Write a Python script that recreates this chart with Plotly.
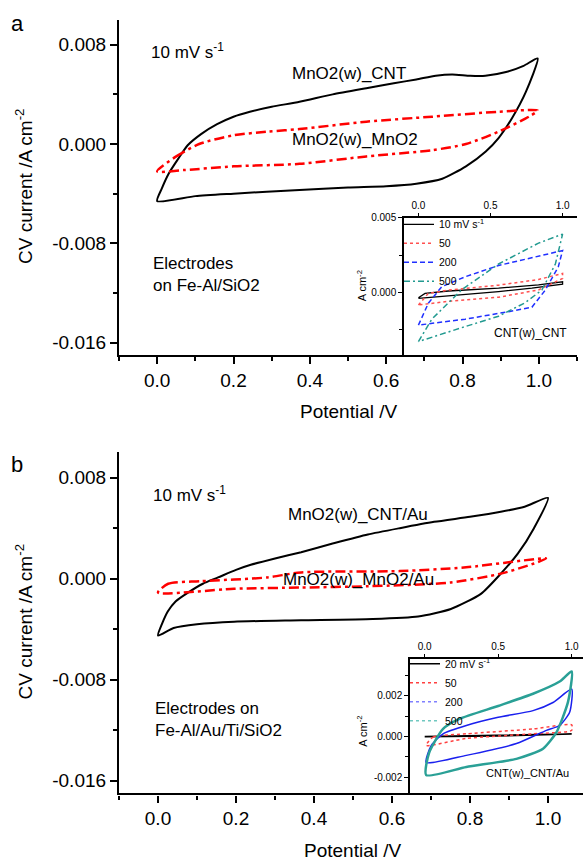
import plotly.graph_objects as go

W, H = 583, 862

# ---------------- data ----------------
# Panel a, main (10 mV/s)
a_cnt_x = [0.0, 0.012, 0.03, 0.055, 0.08, 0.115, 0.157, 0.2, 0.243, 0.3, 0.373, 0.46, 0.548, 0.62, 0.679, 0.73,
           0.773, 0.82, 0.86, 0.914, 0.96, 0.997,
           0.966, 0.93, 0.895, 0.861, 0.809, 0.747, 0.679, 0.6, 0.5, 0.373, 0.2, 0.1, 0.0]
a_cnt_y = [-0.0046, -0.0036, -0.0024, -0.0012, -0.0001, 0.0008, 0.0016, 0.0022, 0.0026, 0.003, 0.0034, 0.004,
           0.0045, 0.0049, 0.0052, 0.0055, 0.0056, 0.0055, 0.0055, 0.0058, 0.0063, 0.0069,
           0.0042, 0.0021, 0.0005, -0.0006, -0.0018, -0.0028, -0.0032, -0.0034, -0.0035, -0.0037, -0.0040,
           -0.0042, -0.0046]
a_mno2_x = [0.0, 0.05, 0.11, 0.2, 0.29, 0.373, 0.548, 0.72, 0.895, 0.997,
            0.974, 0.895, 0.809, 0.72, 0.548, 0.373, 0.2, 0.07, 0.0]
a_mno2_y = [-0.0022, -0.001, 0.0, 0.0007, 0.001, 0.0012, 0.0018, 0.0022, 0.0026, 0.0027,
            0.0022, 0.001, 0.0, -0.0005, -0.001, -0.0016, -0.0018, -0.0021, -0.0022]

# Panel a, inset CNT(w)_CNT
ia_10_x = [0.0, 0.046, 0.208, 0.556, 0.833, 1.0, 1.0, 0.787, 0.556, 0.208, 0.0]
ia_10_y = [-0.00036, -0.00007, 0.00009, 0.00028, 0.0005, 0.00071, 0.00055, 0.00028, 0.00005, -0.0002, -0.0004]
ia_50_x = [0.0, 0.069, 0.208, 0.556, 0.833, 1.0, 1.0, 0.833, 0.556, 0.208, 0.0]
ia_50_y = [-0.00085, -0.00007, 0.00015, 0.00048, 0.00086, 0.00127, 0.00093, 0.00016, -0.00033, -0.0006, -0.00085]
ia_200_x = [0.0, 0.069, 0.162, 0.324, 0.556, 0.833, 1.0, 0.97, 0.88, 0.787, 0.625, 0.324, 0.0]
ia_200_y = [-0.0022, -0.00073, 0.00038, 0.00104, 0.0018, 0.0024, 0.0028, 0.0017, 0.00015, -0.001, -0.0013, -0.0018, -0.0022]
ia_500_x = [0.0, 0.093, 0.301, 0.556, 0.833, 1.0, 0.95, 0.856, 0.74, 0.556, 0.324, 0.0]
ia_500_y = [-0.0033, -0.0018, 0.00018, 0.0019, 0.0033, 0.0039, 0.0019, 0.00015, -0.0007, -0.0016, -0.0023, -0.0033]
ia_names = ["10 mV s<sup>-1</sup>", "50", "200", "500"]

# Panel b, main (10 mV/s)
b_cnt_x = [0.0, 0.01, 0.025, 0.045, 0.077, 0.115, 0.154, 0.2, 0.238, 0.3, 0.367, 0.45, 0.538, 0.62, 0.708, 0.8,
           0.879, 0.94, 1.0,
           0.964, 0.923, 0.879, 0.828, 0.751, 0.667, 0.55, 0.367, 0.195, 0.1, 0.04, 0.0]
b_cnt_y = [-0.0045, -0.0036, -0.0026, -0.0018, -0.0011, -0.0004, 0.0001, 0.0007, 0.0011, 0.0016, 0.0021, 0.0028,
           0.0035, 0.004, 0.0045, 0.0049, 0.0053, 0.0057, 0.0064,
           0.004, 0.002, 0.0004, -0.0012, -0.0024, -0.003, -0.0032, -0.0033, -0.0034, -0.0036, -0.0039, -0.0045]
b_mno2_x = [0.0, 0.026, 0.11, 0.28, 0.367, 0.62, 0.79, 0.995, 0.964, 0.879, 0.751, 0.538, 0.367, 0.195, 0.0]
b_mno2_y = [-0.0011, -0.0004, -0.0002, 0.0001, 0.0005, 0.0006, 0.0009, 0.0016, 0.0012, 0.0004, -0.0003, -0.0006,
            -0.0007, -0.0008, -0.0011]

# Panel b, inset CNT(w)_CNT/Au
ib_20_x = [0.0, 0.5, 1.0, 0.5, 0.0]
ib_20_y = [0.0, 0.00006, 0.00012, 0.00002, -0.00002]
ib_50_x = [0.01, 0.057, 0.283, 0.737, 1.0, 1.0, 0.737, 0.283, 0.01]
ib_50_y = [-0.00044, -0.00003, 0.00013, 0.00037, 0.00057, 0.0003, 0.00013, -0.0001, -0.00044]
ib_200_x = [0.01, 0.045, 0.125, 0.283, 0.5, 0.737, 0.873, 1.0, 0.986, 0.918, 0.828, 0.624, 0.283, 0.01]
ib_200_y = [-0.00128, -0.00044, 0.00013, 0.00054, 0.00094, 0.00127, 0.00167, 0.00233, 0.00119, 0.00054, 0.0003,
            -0.00035, -0.00093, -0.00128]
ib_500_x = [0.01, 0.03, 0.125, 0.236, 0.5, 0.737, 0.918, 1.0, 0.975, 0.896, 0.805, 0.624, 0.283, 0.01]
ib_500_y = [-0.0019, -0.0008, 0.00037, 0.00086, 0.0015, 0.0021, 0.0027, 0.0032, 0.0017, 0.0002, -0.0006, -0.0011,
            -0.0015, -0.0019]
ib_names = ["20 mV s<sup>-1</sup>", "50", "200", "500"]

# ticks
main_x_ticks = [0.0, 0.2, 0.4, 0.6, 0.8, 1.0]
main_x_labels = ["0.0", "0.2", "0.4", "0.6", "0.8", "1.0"]
main_x_minor = [-0.1, 0.1, 0.3, 0.5, 0.7, 0.9, 1.1]
main_y_ticks = [-0.016, -0.008, 0.0, 0.008]
main_y_labels = ["-0.016", "-0.008", "0.000", "0.008"]
main_y_minor = [-0.012, -0.004, 0.004]
inset_x_ticks = [0.0, 0.5, 1.0]
inset_x_labels = ["0.0", "0.5", "1.0"]
ia_y_ticks = [0.0, 0.005]
ia_y_labels = ["0.000", "0.005"]
ia_y_minor = [-0.0025, 0.0025]
ib_y_ticks = [-0.002, 0.0, 0.002]
ib_y_labels = ["-0.002", "0.000", "0.002"]
ib_y_minor = [-0.001, 0.001, 0.003]

# ---------------- figure ----------------
def px(x):
    return x / W


def py(y):
    return 1 - y / H


FONT = "Arial"
fig = go.Figure()

# main traces
fig.add_trace(go.Scatter(x=a_cnt_x, y=a_cnt_y, mode="lines",
                         line=dict(color="black", width=2, shape="spline", smoothing=0.6),
                         xaxis="x", yaxis="y", showlegend=False))
fig.add_trace(go.Scatter(x=a_mno2_x, y=a_mno2_y, mode="lines",
                         line=dict(color="#ff0000", width=2.5, dash="10px,4px,3px,4px", shape="spline",
                                   smoothing=0.7),
                         xaxis="x", yaxis="y", showlegend=False))
fig.add_trace(go.Scatter(x=b_cnt_x, y=b_cnt_y, mode="lines",
                         line=dict(color="black", width=2, shape="spline", smoothing=0.6),
                         xaxis="x3", yaxis="y3", showlegend=False))
fig.add_trace(go.Scatter(x=b_mno2_x, y=b_mno2_y, mode="lines",
                         line=dict(color="#ff0000", width=2.5, dash="10px,4px,3px,4px", shape="spline",
                                   smoothing=0.7),
                         xaxis="x3", yaxis="y3", showlegend=False))

# inset a traces
ia_data = [(ia_10_x, ia_10_y), (ia_50_x, ia_50_y), (ia_200_x, ia_200_y), (ia_500_x, ia_500_y)]
ia_styles = [dict(color="black", width=1.3, dash="solid"),
             dict(color="#ff5050", width=1.5, dash="dot"),
             dict(color="#2030ff", width=1.5, dash="5px,3px"),
             dict(color="#229a90", width=1.5, dash="6px,3px,2px,3px")]
for (xs, ys), st, nm in zip(ia_data, ia_styles, ia_names):
    fig.add_trace(go.Scatter(x=xs, y=ys, mode="lines", line=st, name=nm,
                             xaxis="x2", yaxis="y2", legend="legend"))

# inset b traces
ib_data = [(ib_20_x, ib_20_y), (ib_50_x, ib_50_y), (ib_200_x, ib_200_y), (ib_500_x, ib_500_y)]
ib_styles = [dict(color="black", width=1.5, dash="solid"),
             dict(color="#ff4040", width=1.5, dash="dot", shape="spline", smoothing=0.6),
             dict(color="#1a20ee", width=1.5, dash="solid", shape="spline", smoothing=0.6),
             dict(color="#2aa096", width=2.5, dash="solid", shape="spline", smoothing=0.6)]
ib_leg_styles = [dict(color="black", width=1.3, dash="solid"),
                 dict(color="#ff4040", width=1.5, dash="dot"),
                 dict(color="#8080ff", width=1.5, dash="dot"),
                 dict(color="#70c8c0", width=1.5, dash="dot")]
for (xs, ys), st, lst, nm in zip(ib_data, ib_styles, ib_leg_styles, ib_names):
    fig.add_trace(go.Scatter(x=xs, y=ys, mode="lines", line=st, showlegend=False,
                             xaxis="x4", yaxis="y4"))
    fig.add_trace(go.Scatter(x=[None], y=[None], mode="lines", line=lst, name=nm,
                             xaxis="x4", yaxis="y4", legend="legend2"))

tick_font = dict(family=FONT, size=19, color="black")
small_font = dict(family=FONT, size=10, color="black")


def main_x(domain, rng, anchor):
    return dict(domain=domain, range=rng, anchor=anchor, side="bottom", showline=True, linewidth=2.2,
                linecolor="black", ticks="outside", ticklen=7, tickwidth=2.2, tickcolor="black",
                tickmode="array", tickvals=main_x_ticks, ticktext=main_x_labels, tickfont=tick_font,
                minor=dict(tickmode="array", tickvals=main_x_minor, ticks="outside", ticklen=4,
                           tickwidth=2, tickcolor="black"),
                showgrid=False, zeroline=False, fixedrange=True)


def main_y(domain, anchor):
    return dict(domain=domain, range=[-0.017, 0.010], anchor=anchor, side="left", showline=True,
                linewidth=2.2, linecolor="black", ticks="outside", ticklen=7, tickwidth=2.2,
                tickcolor="black", tickmode="array", tickvals=main_y_ticks, ticktext=main_y_labels,
                tickfont=tick_font,
                minor=dict(tickmode="array", tickvals=main_y_minor, ticks="outside", ticklen=4,
                           tickwidth=2, tickcolor="black"),
                showgrid=False, zeroline=False, fixedrange=True)


def top_x(over, anchor, rng):
    return dict(overlaying=over, anchor=anchor, side="top", range=rng, showline=True, linewidth=2.2,
                linecolor="black", ticks="inside", ticklen=7, tickwidth=2.2, tickcolor="black",
                tickmode="array", tickvals=main_x_ticks, showticklabels=False,
                minor=dict(tickmode="array", tickvals=main_x_minor, ticks="inside", ticklen=4,
                           tickwidth=2, tickcolor="black"),
                showgrid=False, zeroline=False, fixedrange=True)


def right_y(over, anchor, line, tlen):
    return dict(overlaying=over, anchor=anchor, side="right", range=[-0.017, 0.010], showline=line,
                linewidth=2.2, linecolor="black", ticks="inside", ticklen=tlen, tickwidth=2.2,
                tickcolor="black", tickmode="array", tickvals=main_y_ticks, showticklabels=False,
                minor=dict(tickmode="array", tickvals=main_y_minor, ticks="inside", ticklen=tlen,
                           tickwidth=2, tickcolor="black"),
                showgrid=False, zeroline=False, fixedrange=True)


def inset_x(domain, rng, anchor):
    return dict(domain=domain, range=rng, anchor=anchor, side="top", showline=True, mirror=True,
                linewidth=1.5, linecolor="black", ticks="outside", ticklen=3, tickwidth=1.2,
                tickcolor="black", tickmode="array", tickvals=inset_x_ticks, ticktext=inset_x_labels,
                tickfont=small_font, showgrid=False, zeroline=False, fixedrange=True)


def inset_y(domain, rng, anchor, tv, tt, mn):
    return dict(domain=domain, range=rng, anchor=anchor, side="left", showline=True,
                linewidth=1.5, linecolor="black", ticks="outside", ticklen=4, tickwidth=1.2,
                tickcolor="black", tickmode="array", tickvals=tv, ticktext=tt, tickfont=small_font,
                minor=dict(tickmode="array", tickvals=mn, ticks="outside", ticklen=3, tickwidth=1.2,
                           tickcolor="black"),
                showgrid=False, zeroline=False, fixedrange=True)


a_xdom = [px(119), px(577)]
a_ydom = [py(352), py(15)]
b_xdom = [px(119), 1.0]
b_ydom = [py(793), py(450)]
b_xrng = [-0.1, -0.1 + (W - 119) / 390.0]
ia_xdom = [px(404), px(577)]
ia_ydom = [py(352), py(214)]
ib_xdom = [px(410), 1.0]
ib_ydom = [py(793), py(658)]
ib_xrng = [-0.1, -0.1 + (W - 410) / 147.0]

fig.update_layout(
    width=W, height=H, margin=dict(l=0, r=0, t=0, b=0),
    paper_bgcolor="white", plot_bgcolor="white",
    font=dict(family=FONT, color="black"),
    xaxis=main_x(a_xdom, [-0.1, 1.1], "y"),
    yaxis=main_y(a_ydom, "x"),
    xaxis5=top_x("x", "y", [-0.1, 1.1]),
    yaxis5=right_y("y", "x", True, 6),
    xaxis3=main_x(b_xdom, b_xrng, "y3"),
    yaxis3=main_y(b_ydom, "x3"),
    xaxis6=top_x("x3", "y3", b_xrng),
    yaxis6=right_y("y3", "x3", False, 5),
    xaxis2=inset_x(ia_xdom, [-0.1, 1.1], "y2"),
    yaxis2=inset_y(ia_ydom, [-0.0042, 0.005], "x2", ia_y_ticks, ia_y_labels, ia_y_minor),
    xaxis4=inset_x(ib_xdom, ib_xrng, "y4"),
    yaxis4=inset_y(ib_ydom, [-0.0028, 0.0038], "x4", ib_y_ticks, ib_y_labels, ib_y_minor),
    legend=dict(x=px(399), y=py(206), xanchor="left", yanchor="top", bgcolor="rgba(0,0,0,0)",
                font=dict(family=FONT, size=10.5, color="black"), itemwidth=30, tracegroupgap=0,
                borderwidth=0),
    legend2=dict(x=px(405), y=py(648), xanchor="left", yanchor="top", bgcolor="rgba(0,0,0,0)",
                 font=dict(family=FONT, size=10.5, color="black"), itemwidth=30, tracegroupgap=0,
                 borderwidth=0),
    showlegend=True,
)

ann_font = dict(family=FONT, size=17, color="black")
annotations = [
    dict(text="a", x=px(9), y=py(19), xanchor="left", yanchor="middle", font=dict(family=FONT, size=22)),
    dict(text="b", x=px(9), y=py(462), xanchor="left", yanchor="middle", font=dict(family=FONT, size=22)),
    dict(text="10 mV s<sup>-1</sup>", x=px(149), y=py(46), xanchor="left", yanchor="middle", font=ann_font),
    dict(text="MnO2(w)_CNT", x=px(349), y=py(69), xanchor="center", yanchor="middle", font=ann_font),
    dict(text="MnO2(w)_MnO2", x=px(355), y=py(135), xanchor="center", yanchor="middle", font=ann_font),
    dict(text="Electrodes<br>on Fe-Al/SiO2", x=px(151), y=py(271), xanchor="left", yanchor="middle",
         align="left", font=ann_font),
    dict(text="Potential /V", x=px(348), y=py(409), xanchor="center", yanchor="middle",
         font=dict(family=FONT, size=19)),
    dict(text="CV current /A cm<sup>-2</sup>", x=px(24), y=py(183), xanchor="center", yanchor="middle",
         textangle=-90, font=dict(family=FONT, size=19)),
    dict(text="10 mV s<sup>-1</sup>", x=px(151), y=py(492), xanchor="left", yanchor="middle", font=ann_font),
    dict(text="MnO2(w)_CNT/Au", x=px(358), y=py(512), xanchor="center", yanchor="middle", font=ann_font),
    dict(text="MnO2(w)_MnO2/Au", x=px(358), y=py(578), xanchor="center", yanchor="middle", font=ann_font),
    dict(text="Electrodes on<br>Fe-Al/Au/Ti/SiO2", x=px(153), y=py(719), xanchor="left", yanchor="middle",
         align="left", font=ann_font),
    dict(text="Potential /V", x=px(352), y=py(850), xanchor="center", yanchor="middle",
         font=dict(family=FONT, size=19)),
    dict(text="CV current /A cm<sup>-2</sup>", x=px(24), y=py(621), xanchor="center", yanchor="middle",
         textangle=-90, font=dict(family=FONT, size=19)),
    dict(text="CNT(w)_CNT", x=px(530), y=py(330), xanchor="center", yanchor="middle",
         font=dict(family=FONT, size=12)),
    dict(text="CNT(w)_CNT/Au", x=px(527), y=py(772), xanchor="center", yanchor="middle",
         font=dict(family=FONT, size=11)),
    dict(text="A cm<sup>-2</sup>", x=px(362), y=py(283), xanchor="center", yanchor="middle",
         textangle=-90, font=dict(family=FONT, size=11)),
    dict(text="A cm<sup>-2</sup>", x=px(362), y=py(731), xanchor="center", yanchor="middle",
         textangle=-90, font=dict(family=FONT, size=11)),
]
for a in annotations:
    a.update(xref="paper", yref="paper", showarrow=False)
fig.update_layout(annotations=annotations)

fig.write_html("out.html")
